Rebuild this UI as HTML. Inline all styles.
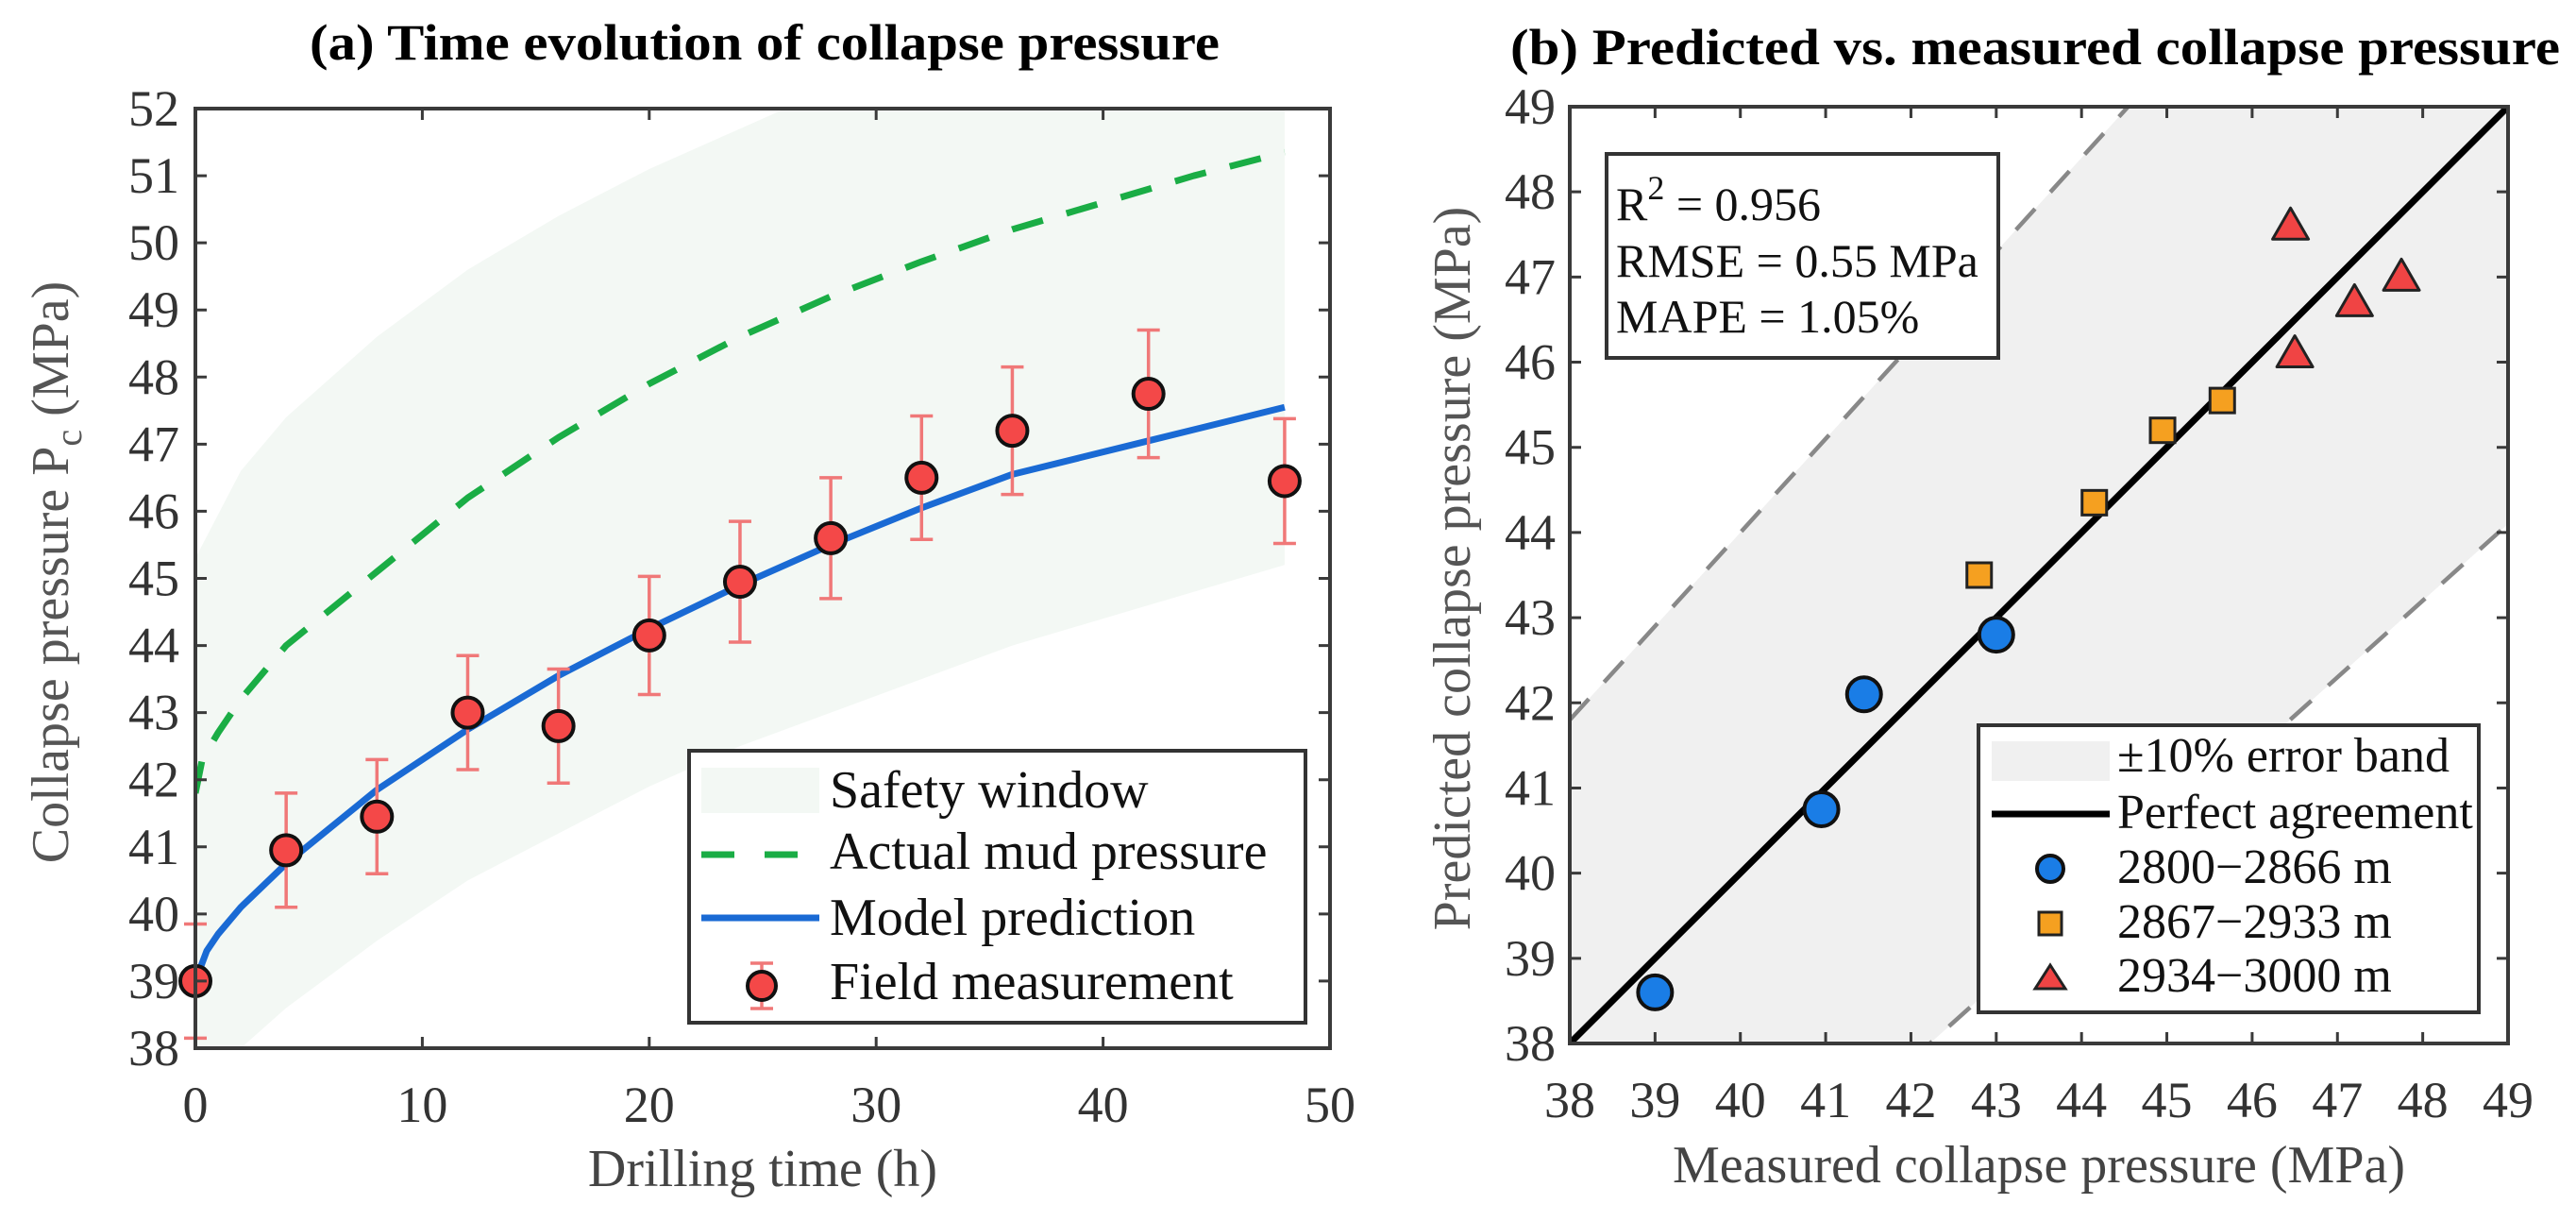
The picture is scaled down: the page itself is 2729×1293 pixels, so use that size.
<!DOCTYPE html>
<html><head><meta charset="utf-8"><style>
html,body{margin:0;padding:0;background:#fff;width:2729px;height:1293px;overflow:hidden;}
svg{display:block;font-family:"Liberation Serif",serif;}
</style></head><body>
<svg id="fig" width="2729" height="1293" viewBox="0 0 2729 1293" xmlns="http://www.w3.org/2000/svg">
<defs>
<clipPath id="clipA"><rect x="207" y="115" width="1202" height="995"/></clipPath>
<clipPath id="clipB"><rect x="1663" y="113" width="994" height="992"/></clipPath>
</defs>
<rect width="2729" height="1293" fill="#fff"/>
<g id="panelA"></g>
<g id="panelB"></g>
</svg>
<script>
// ---------- Panel (a) data ----------
const measTime = [0,4,8,12,16,20,24,28,32,36,42,48];
const measValue = [39.0,40.95,41.45,43.0,42.8,44.15,44.95,45.6,46.5,47.2,47.75,46.45];
const measErr = [0.85,0.85,0.85,0.85,0.85,0.88,0.9,0.9,0.92,0.95,0.95,0.93];
const modelTime = [0,0.5,1,2,4,8,12,16,20,24,28,32,36,42,48];
const modelValue = [39.0,39.45,39.7,40.1,40.75,41.85,42.75,43.55,44.25,44.9,45.5,46.05,46.55,47.05,47.55];
const mudTime = [0,0.3,1,2,4,8,12,16,20,24,28,32,36,40,44,48];
const mudValue = [41.8,42.3,42.7,43.2,44.0,45.1,46.2,47.1,47.9,48.6,49.2,49.72,50.2,50.6,51.0,51.35];
const winTime = [0,2,4,8,12,16,20,24,28,32,36,42,48];
const winUpper = [45.3,46.6,47.4,48.6,49.6,50.4,51.1,51.7,52.3,52.8,53.2,53.7,54.1];
const winLower = [37.4,38.0,38.6,39.6,40.5,41.2,41.9,42.5,43.0,43.5,44.0,44.6,45.2];
const xTicksA = [0,10,20,30,40,50];
const yTicksA = [38,39,40,41,42,43,44,45,46,47,48,49,50,51,52];

// ---------- Panel (b) data ----------
const grpCircMeas = [39.0,40.95,41.45,43.0];
const grpCircPred = [38.6,40.75,42.1,42.8];
const grpSqMeas = [42.8,44.15,44.95,45.65];
const grpSqPred = [43.5,44.35,45.2,45.55];
const grpTriMeas = [46.45,46.5,47.2,47.75];
const grpTriPred = [47.6,46.1,46.7,47.0];
const bandFactor = [0.9,1.1];
const ticksB = [38,39,40,41,42,43,44,45,46,47,48,49];
const statsLines = ["RMSE = 0.55 MPa","MAPE = 1.05%"];
const legendB = ["±10% error band","Perfect agreement","2800−2866 m","2867−2933 m","2934−3000 m"];
const legendA = ["Safety window","Actual mud pressure","Model prediction","Field measurement"];

const NS = "http://www.w3.org/2000/svg";
function mk(parent, tag, attrs, text){
  const e = document.createElementNS(NS, tag);
  for (const k in attrs) e.setAttribute(k, attrs[k]);
  if (text !== undefined) e.textContent = text;
  parent.appendChild(e);
  return e;
}
const AX0=207, AX1=1409, AY0=1110, AY1=115;
const xA = t => AX0 + (t-0)/(50-0)*(AX1-AX0);
const yA = v => AY0 - (v-38)/(52-38)*(AY0-AY1);
const BX0=1663, BX1=2657, BY0=1105, BY1=113;
const xB = v => BX0 + (v-38)/(49-38)*(BX1-BX0);
const yB = v => BY0 - (v-38)/(49-38)*(BY0-BY1);

const A = document.getElementById('panelA');
const B = document.getElementById('panelB');

let t = mk(A,'text',{x:328,y:63,'font-size':54,'font-weight':'bold',textLength:964,lengthAdjust:'spacingAndGlyphs'},"(a) Time evolution of collapse pressure");
 

const gA = mk(A,'g',{'clip-path':'url(#clipA)'});
let d = "";
winTime.forEach((tt,i)=>{ d += (i?"L":"M")+xA(tt)+","+yA(winUpper[i]); });
for (let i=winTime.length-1;i>=0;i--) d += "L"+xA(winTime[i])+","+yA(winLower[i]);
let e = mk(gA,'path',{d:d+"Z",fill:'#f3f8f4',stroke:'none'});
 

d = mudTime.map((tt,i)=>(i?"L":"M")+xA(tt)+","+yA(mudValue[i])).join("");
e = mk(gA,'path',{d:d,fill:'none',stroke:'#1aad45','stroke-width':7,'stroke-dasharray':'34,26','stroke-linejoin':'round'});
 

d = modelTime.map((tt,i)=>(i?"L":"M")+xA(tt)+","+yA(modelValue[i])).join("");
e = mk(gA,'path',{d:d,fill:'none',stroke:'#1a6ad4','stroke-width':7,'stroke-linejoin':'round'});
 

measTime.forEach((tt,i)=>{
  const x=xA(tt), y=yA(measValue[i]), yt=yA(measValue[i]+measErr[i]), yb=yA(measValue[i]-measErr[i]);
  const g = mk(A,'g',{});
   
  mk(g,'path',{d:`M${x},${yt}L${x},${yb}M${x-12},${yt}L${x+12},${yt}M${x-12},${yb}L${x+12},${yb}`,stroke:'#f07878','stroke-width':3.5,fill:'none'});
  mk(g,'circle',{cx:x,cy:y,r:16,fill:'#f44848',stroke:'#111','stroke-width':4});
});

e = mk(A,'rect',{x:AX0,y:AY1,width:AX1-AX0,height:AY0-AY1,fill:'none',stroke:'#3a3a3a','stroke-width':4});
 
xTicksA.forEach(v=>{
  const x=xA(v);
  mk(A,'path',{d:`M${x},${AY0}L${x},${AY0-12}M${x},${AY1}L${x},${AY1+12}`,stroke:'#3a3a3a','stroke-width':3});
  const l = mk(A,'text',{x:x,y:1188,'font-size':54,'text-anchor':'middle',fill:'#333'},String(v));
   
});
yTicksA.forEach(v=>{
  const y=yA(v);
  mk(A,'path',{d:`M${AX0},${y}L${AX0+12},${y}M${AX1},${y}L${AX1-12},${y}`,stroke:'#3a3a3a','stroke-width':3});
  const l = mk(A,'text',{x:190,y:y+18,'font-size':54,'text-anchor':'end',fill:'#333'},String(v));
   
});
e = mk(A,'text',{x:808,y:1256,'font-size':56,'text-anchor':'middle',fill:'#444'},"Drilling time (h)");
 
e = mk(A,'text',{x:0,y:0,'font-size':56,'text-anchor':'middle',fill:'#555',transform:'translate(72,606) rotate(-90)'});
 
mk(e,'tspan',{},"Collapse pressure P");
mk(e,'tspan',{dy:14,'font-size':40},"c");
mk(e,'tspan',{dy:-14},"\u00a0(MPa)");

const lgA = mk(A,'g',{});
 
mk(lgA,'rect',{x:730,y:795,width:653,height:288,fill:'#fff',stroke:'#333','stroke-width':4});
const rowsA=[855,920,990,1058];
mk(lgA,'rect',{x:743,y:813,width:125,height:48,fill:'#f3f8f4'});
mk(lgA,'path',{d:'M743,905L778,905M810,905L845,905',stroke:'#1aad45','stroke-width':7});
mk(lgA,'path',{d:'M743,972L868,972',stroke:'#1a6ad4','stroke-width':7});
mk(lgA,'path',{d:'M807,1020L807,1068M795,1020L819,1020M795,1068L819,1068',stroke:'#f07878','stroke-width':3.5});
mk(lgA,'circle',{cx:807,cy:1044,r:15,fill:'#f44848',stroke:'#111','stroke-width':4});
legendA.forEach((s,i)=>{
  const l = mk(lgA,'text',{x:879,y:rowsA[i],'font-size':56,fill:'#111'},s);
   
});

t = mk(B,'text',{x:1600,y:68,'font-size':54,'font-weight':'bold',textLength:1112,lengthAdjust:'spacingAndGlyphs'},"(b) Predicted vs. measured collapse pressure");
 
const gB = mk(B,'g',{'clip-path':'url(#clipB)'});
const lo=ticksB[0], hi=ticksB[ticksB.length-1];
e = mk(gB,'path',{d:`M${xB(lo)},${yB(lo*bandFactor[1])}L${xB(hi)},${yB(hi*bandFactor[1])}L${xB(hi)},${yB(hi*bandFactor[0])}L${xB(lo)},${yB(lo*bandFactor[0])}Z`,fill:'#f0f0f0'});
 
bandFactor.forEach(f=>{
  const l = mk(gB,'path',{d:`M${xB(lo)},${yB(lo*f)}L${xB(hi)},${yB(hi*f)}`,stroke:'#888','stroke-width':4.5,'stroke-dasharray':'30,24',fill:'none'});
   
});
e = mk(gB,'path',{d:`M${xB(lo)},${yB(lo)}L${xB(hi)},${yB(hi)}`,stroke:'#000','stroke-width':7,'stroke-linecap':'round'});
 

grpCircMeas.forEach((m,i)=>{
  const c = mk(B,'circle',{cx:xB(m),cy:yB(grpCircPred[i]),r:18,fill:'#1a7de6',stroke:'#111','stroke-width':4});
   
});
grpSqMeas.forEach((m,i)=>{
  const x=xB(m), y=yB(grpSqPred[i]);
  const c = mk(B,'rect',{x:x-13,y:y-13,width:26,height:26,fill:'#f5a020',stroke:'#222','stroke-width':3});
   
});
grpTriMeas.forEach((m,i)=>{
  const x=xB(m), y=yB(grpTriPred[i]);
  const c = mk(B,'path',{d:`M${x},${y-19}L${x+19},${y+14}L${x-19},${y+14}Z`,fill:'#f04444',stroke:'#222','stroke-width':3,'stroke-linejoin':'round'});
   
});

e = mk(B,'rect',{x:BX0,y:BY1,width:BX1-BX0,height:BY0-BY1,fill:'none',stroke:'#3a3a3a','stroke-width':4});
 
ticksB.forEach(v=>{
  const x=xB(v), y=yB(v);
  mk(B,'path',{d:`M${x},${BY0}L${x},${BY0-12}M${x},${BY1}L${x},${BY1+12}M${BX0},${y}L${BX0+12},${y}M${BX1},${y}L${BX1-12},${y}`,stroke:'#3a3a3a','stroke-width':3});
  let l = mk(B,'text',{x:x,y:1183,'font-size':54,'text-anchor':'middle',fill:'#333'},String(v));
   
  l = mk(B,'text',{x:1648,y:y+18,'font-size':54,'text-anchor':'end',fill:'#333'},String(v));
   
});
e = mk(B,'text',{x:2160,y:1252,'font-size':56,'text-anchor':'middle',fill:'#444'},"Measured collapse pressure (MPa)");
 
e = mk(B,'text',{x:0,y:0,'font-size':56,'text-anchor':'middle',fill:'#555',transform:'translate(1557,602) rotate(-90)'},"Predicted collapse pressure (MPa)");
 

const sb = mk(B,'g',{});
 
mk(sb,'rect',{x:1702,y:163,width:415,height:216,fill:'#fff',stroke:'#333','stroke-width':4});
e = mk(sb,'text',{x:1712,y:233,'font-size':50,fill:'#111'});
mk(e,'tspan',{},"R");
mk(e,'tspan',{dy:-22,'font-size':36},"2");
mk(e,'tspan',{dy:22},"\u00a0= 0.956");
statsLines.forEach((s,i)=>{
  const l = mk(sb,'text',{x:1712,y:293+i*59,'font-size':50,fill:'#111'},s);
   
});

const lgB = mk(B,'g',{});
 
mk(lgB,'rect',{x:2096,y:768,width:530,height:304,fill:'#fff',stroke:'#333','stroke-width':4});
const rowsB=[817,877,935,993,1050];
mk(lgB,'rect',{x:2110,y:785,width:125,height:42,fill:'#f0f0f0'});
mk(lgB,'path',{d:'M2110,862L2235,862',stroke:'#000','stroke-width':7});
mk(lgB,'circle',{cx:2172,cy:920,r:14,fill:'#1a7de6',stroke:'#111','stroke-width':4});
mk(lgB,'rect',{x:2160,y:966,width:24,height:24,fill:'#f5a020',stroke:'#222','stroke-width':3});
mk(lgB,'path',{d:'M2172,1022L2188,1047L2156,1047Z',fill:'#f04444',stroke:'#222','stroke-width':3});
legendB.forEach((s,i)=>{
  const l = mk(lgB,'text',{x:2243,y:rowsB[i],'font-size':52,fill:'#111'},s);
   
});
</script>
</body></html>
